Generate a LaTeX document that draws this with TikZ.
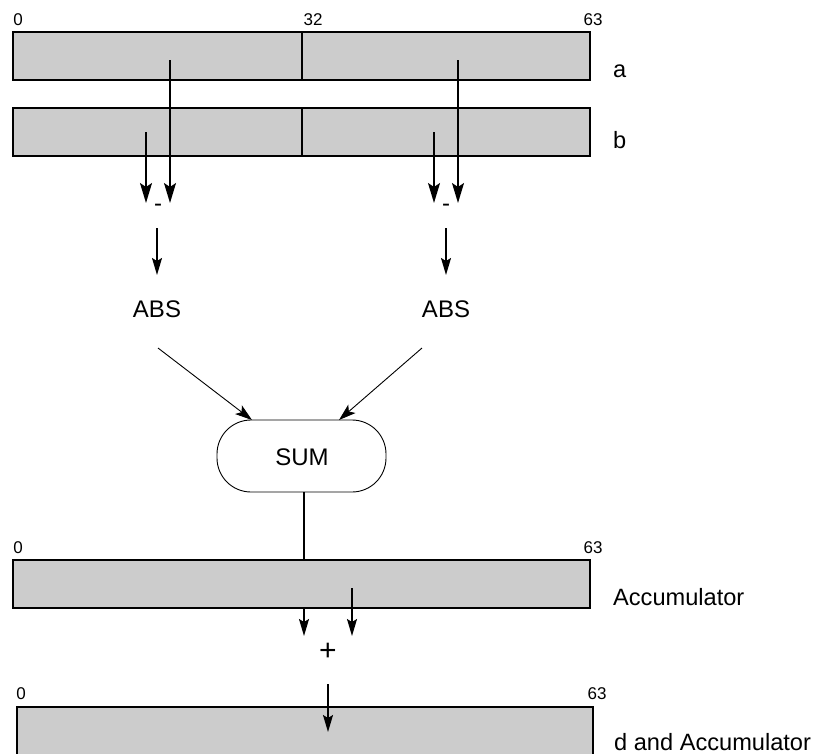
\documentclass[tikz,border=0pt]{standalone}
\usepackage{fontspec}
\setmainfont{Liberation Sans}
\usetikzlibrary{arrows.meta}
\definecolor{regfill}{gray}{0.8}

\begin{document}
\begin{tikzpicture}[x=1pt,y=-1pt,
  reg/.style={draw, line width=1.8pt, fill=regfill, rectangle, inner sep=0pt,
              minimum width=577pt, minimum height=48pt},
  bitno/.style={anchor=base, inner sep=0pt, font=\fontsize{17}{20}\selectfont},
  lbl/.style={anchor=base west, inner sep=0pt, font=\fontsize{23.6}{28}\selectfont},
  optext/.style={inner sep=0pt, font=\fontsize{24}{28}\selectfont},
  bigarrow/.style={line width=1.6pt, -{Stealth[length=20pt, width=12pt, inset=4pt]}},
  midarrow/.style={line width=1.5pt, -{Stealth[length=17pt, width=10pt, inset=3pt]}},
  thinarrow/.style={line width=0.9pt, -{Stealth[length=17pt, width=11pt, inset=4pt]}},
]
\useasboundingbox (0,0) rectangle (817,753);
\clip (0,0) rectangle (817,753);

% source registers a and b, split into two 32-bit halves
\node[reg] (ra) at (301.5,56) {};
\node[reg] (rb) at (301.5,132) {};
\draw[line width=1.8pt] (302,32) -- (302,80);
\draw[line width=1.8pt] (302,108) -- (302,156);
\node[bitno] (n0) at (18,25) {0};
\node[bitno] (n32) at (313,25) {32};
\node[bitno] (n63) at (593,25) {63};
\node[lbl] (la) at (613,77) {a};
\node[lbl] (lb) at (613,148) {b};

% element-wise subtraction
\coordinate (a1) at (170,60);
\coordinate (b1) at (146,132);
\coordinate (a2) at (458,60);
\coordinate (b2) at (434,132);
\node[optext] (sub1) at (158,208) {-};
\node[optext] (sub2) at (446,208) {-};
\coordinate (a1t) at (170,203);
\coordinate (b1t) at (146,203);
\coordinate (a2t) at (458,203);
\coordinate (b2t) at (434,203);
\draw[bigarrow] (a1) -- (a1t);
\draw[bigarrow] (b1) -- (b1t);
\draw[bigarrow] (a2) -- (a2t);
\draw[bigarrow] (b2) -- (b2t);

% absolute values
\node[optext, anchor=base] (abs1) at (157,317) {ABS};
\node[optext, anchor=base] (abs2) at (446,317) {ABS};
\coordinate (s1) at (157,228);
\coordinate (s2) at (446,228);
\coordinate (s1t) at (157,275);
\coordinate (s2t) at (446,275);
\draw[midarrow] (s1) -- (s1t);
\draw[midarrow] (s2) -- (s2t);

% horizontal sum
\node[draw, line width=0.9pt, rounded corners=34pt, minimum width=169pt,
      minimum height=72pt, inner sep=0pt] (sum) at (301.5,456) {};
\node[optext, anchor=base] (sumtxt) at (302,465) {SUM};
\coordinate (abs1o) at (158,348);
\coordinate (abs2o) at (422,348);
\coordinate (sumi1) at (252,420);
\coordinate (sumi2) at (339,420);
\draw[thinarrow] (abs1o) -- (sumi1);
\draw[thinarrow] (abs2o) -- (sumi2);

% accumulator
\node[reg] (acc) at (301.5,584) {};
\node[bitno] (acc0) at (18,553) {0};
\node[bitno] (acc63) at (593,553) {63};
\node[lbl] (lacc) at (613,605) {Accumulator};
\draw[line width=1.5pt] (sum.south -| 304,0) -- (acc.north -| 304,0);

% accumulate
\node[optext, font=\fontsize{30}{34}\selectfont] (plus) at (328,652) {+};
\coordinate (acc1) at (304,608);
\coordinate (acc2) at (352,588);
\coordinate (acc1t) at (304,636);
\coordinate (acc2t) at (352,636);
\draw[midarrow] (acc1) -- (acc1t);
\draw[midarrow] (acc2) -- (acc2t);

% destination register
\node[reg, minimum width=576pt, minimum height=80pt, anchor=north west] (rd) at (16,706) {};
\node[bitno] (d0) at (21,699) {0};
\node[bitno] (d63) at (597,699) {63};
\node[lbl] (ld) at (614,750) {d and Accumulator};
\coordinate (p1) at (328,684);
\coordinate (p1t) at (328,732);
\draw[midarrow] (p1) -- (p1t);
\end{tikzpicture}
\end{document}
